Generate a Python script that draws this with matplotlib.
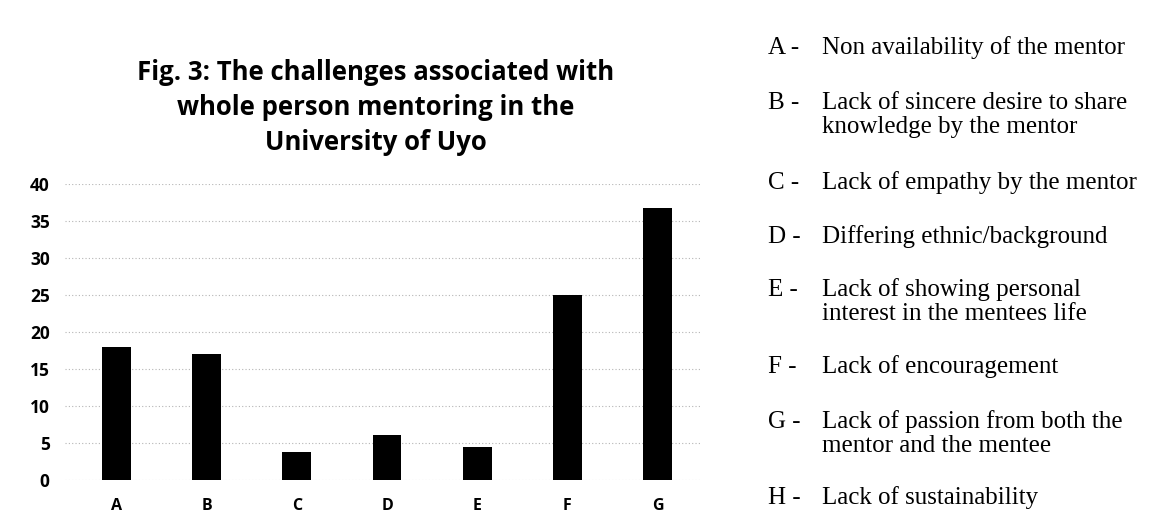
import matplotlib.pyplot as plt

# -----------------------------
# DATA
# -----------------------------
categories = ["A", "B", "C", "D", "E", "F", "G"]
values = [18, 17, 3.8, 6.1, 4.4, 25, 36.7]

legend_letters = ["A", "B", "C", "D", "E", "F", "G", "H"]
legend_texts = [
    "Non availability of the mentor",
    "Lack of sincere desire to share\nknowledge by the mentor",
    "Lack of empathy by the mentor",
    "Differing ethnic/background",
    "Lack of showing personal\ninterest in the mentees life",
    "Lack of encouragement",
    "Lack of passion from both the\nmentor and the mentee",
    "Lack of sustainability",
]
legend_y = [48, 103, 183, 237, 290, 367, 422, 498]  # pixel rows from top

title_lines = ["Fig. 3: The challenges associated with",
               "whole person mentoring in the",
               "University of Uyo"]

# -----------------------------
# PLOT
# -----------------------------
W, H = 1150, 517
fig = plt.figure(figsize=(W / 100, H / 100), dpi=100)
ax = fig.add_axes([65 / W, (H - 480) / H, (700 - 65) / W, (480 - 184) / H])

x = range(len(categories))
ax.bar(x, values, width=0.32, color="black", zorder=3)

ax.set_ylim(0, 40)
ax.set_xlim(-0.57, 6.47)
ax.set_yticks(range(0, 41, 5))
ax.set_xticks(list(x))
ax.set_xticklabels(categories)
ax.yaxis.grid(True, color="#b5b5b5", linestyle=(0, (1, 2)), linewidth=0.8, zorder=0)
for s in ax.spines.values():
    s.set_visible(False)
ax.tick_params(length=0)
ax.tick_params(axis="y", pad=11)
ax.tick_params(axis="x", pad=13)
for lab in ax.get_yticklabels():
    lab.set_fontfamily("Open Sans")
    lab.set_fontweight("bold")
    lab.set_fontsize(12.5)
for lab in ax.get_xticklabels():
    lab.set_fontfamily("Open Sans")
    lab.set_fontweight("bold")
    lab.set_fontsize(11.5)

# title, one line at a time
for i, line in enumerate(title_lines):
    fig.text(376 / W, 1 - (72 + 35 * i) / H, line, ha="center", va="center",
             fontsize=18.5, fontweight="bold", family="Open Sans")

# legend text block
for letter, text, yy in zip(legend_letters, legend_texts, legend_y):
    fig.text(768 / W, 1 - yy / H, letter + " -", ha="left", va="center",
             fontsize=18, family="Liberation Serif")
    for j, part in enumerate(text.split("\n")):
        fig.text(822 / W, 1 - (yy + 24 * j) / H, part, ha="left", va="center",
                 fontsize=18, family="Liberation Serif")

fig.savefig("out.png", dpi=100)
